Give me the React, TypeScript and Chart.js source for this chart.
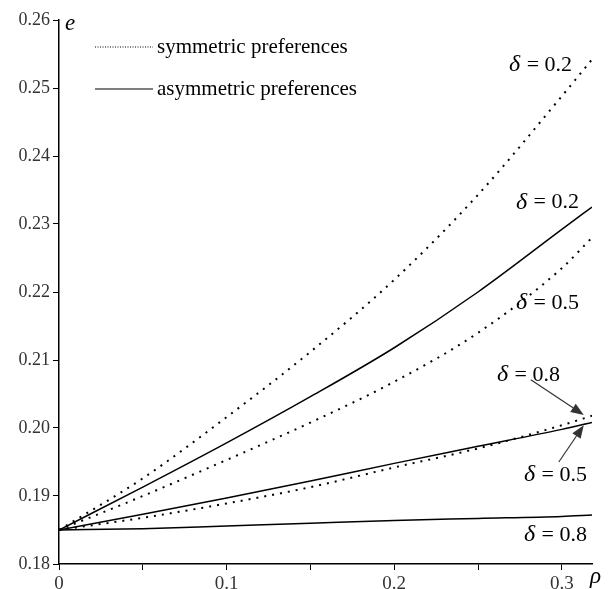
import React, { useEffect, useRef } from "react";
import { Chart, registerables } from "chart.js";

Chart.register(...registerables);

const rho = [0, 0.05, 0.1, 0.15, 0.2, 0.25, 0.3, 0.318];
const symD02 = [0.185, 0.1926, 0.2016, 0.2112, 0.2218, 0.2343, 0.2488, 0.2542];
const asymD02 = [0.185, 0.1913, 0.1978, 0.2046, 0.2118, 0.22, 0.2292, 0.2325];
const symD05 = [0.185, 0.19, 0.1953, 0.2008, 0.2068, 0.214, 0.2235, 0.228];
const asymD05 = [0.185, 0.1873, 0.1897, 0.1922, 0.1948, 0.1973, 0.1998, 0.2008];
const symD08 = [0.185, 0.1868, 0.1889, 0.1913, 0.1942, 0.197, 0.2004, 0.2018];
const asymD08 = [0.185, 0.1852, 0.1856, 0.186, 0.1864, 0.1867, 0.187, 0.1872];

const yTicks = [0.18, 0.19, 0.2, 0.21, 0.22, 0.23, 0.24, 0.25, 0.26];
const xTicks = [0, 0.05, 0.1, 0.15, 0.2, 0.25, 0.3];
const xLabeled = [0, 0.1, 0.2, 0.3];
const legendLabels = ["symmetric preferences", "asymmetric preferences"];

// annotation labels: [text value, x, y]
const curveLabels: [string, number, number][] = [
  ["0.2", 0.2685, 0.2534],
  ["0.2", 0.2726, 0.2332],
  ["0.5", 0.2726, 0.2184],
  ["0.8", 0.2613, 0.2078],
  ["0.5", 0.2774, 0.1931],
  ["0.8", 0.2774, 0.1843],
];
const arrows: [number, number, number, number][] = [
  [0.2815, 0.2071, 0.3131, 0.2019],
  [0.2982, 0.195, 0.3131, 0.2004],
];

const toPts = (ys: number[]) => ys.map((y, i) => ({ x: rho[i], y }));

const overlay = {
  id: "overlay",
  afterDraw(chart: any) {
    const { ctx, scales } = chart;
    const xs = scales.x;
    const ys = scales.y;
    ctx.save();
    // legend
    const lx0 = 95, lx1 = 153;
    const rows = [47, 89];
    ctx.strokeStyle = "#000";
    ctx.lineWidth = 1;
    ctx.setLineDash([1, 1.5]);
    ctx.beginPath();
    ctx.moveTo(lx0, rows[0]);
    ctx.lineTo(lx1, rows[0]);
    ctx.stroke();
    ctx.setLineDash([]);
    ctx.lineWidth = 1.2;
    ctx.beginPath();
    ctx.moveTo(lx0, rows[1]);
    ctx.lineTo(lx1, rows[1]);
    ctx.stroke();
    ctx.fillStyle = "#000";
    ctx.font = '21px "Liberation Serif"';
    ctx.textBaseline = "middle";
    ctx.textAlign = "left";
    ctx.fillText(legendLabels[0], 157, rows[0]);
    ctx.fillText(legendLabels[1], 157, rows[1]);

    // axis titles
    ctx.font = 'italic 23px "Liberation Serif"';
    ctx.fillText("e", xs.left + 6, ys.top + 4);
    ctx.fillText("\u03c1", xs.right - 2, ys.bottom + 13);

    // curve labels
    for (const [v, x, y] of curveLabels) {
      const px = xs.getPixelForValue(x);
      const py = ys.getPixelForValue(y);
      ctx.font = 'italic 24px "Liberation Serif"';
      ctx.fillText("\u03b4", px, py);
      const w = ctx.measureText("\u03b4").width;
      ctx.font = '22px "Liberation Serif"';
      ctx.fillText(" = " + v, px + w + 1, py);
    }

    // arrows
    ctx.strokeStyle = "#333";
    ctx.fillStyle = "#333";
    ctx.lineWidth = 1.2;
    for (const [x0, y0, x1, y1] of arrows) {
      const ax = xs.getPixelForValue(x0);
      const ay = ys.getPixelForValue(y0);
      const bx = xs.getPixelForValue(x1);
      const by = ys.getPixelForValue(y1);
      const ang = Math.atan2(by - ay, bx - ax);
      const hl = 13, hw = 5;
      ctx.beginPath();
      ctx.moveTo(ax, ay);
      ctx.lineTo(bx - Math.cos(ang) * hl, by - Math.sin(ang) * hl);
      ctx.stroke();
      ctx.beginPath();
      ctx.moveTo(bx, by);
      ctx.lineTo(
        bx - Math.cos(ang) * hl - Math.sin(ang) * hw,
        by - Math.sin(ang) * hl + Math.cos(ang) * hw
      );
      ctx.lineTo(
        bx - Math.cos(ang) * hl + Math.sin(ang) * hw,
        by - Math.sin(ang) * hl - Math.cos(ang) * hw
      );
      ctx.closePath();
      ctx.fill();
    }
    ctx.restore();
  },
};

export default function App() {
  const ref = useRef<HTMLCanvasElement>(null);
  useEffect(() => {
    if (!ref.current) return;
    const dotted = { borderDash: [2, 6], borderWidth: 2 };
    const solid = { borderWidth: 1.5 };
    const base = {
      borderColor: "#000",
      pointRadius: 0,
      fill: false,
      cubicInterpolationMode: "monotone" as const,
    };
    const chart = new Chart(ref.current, {
      type: "line",
      data: {
        datasets: [
          { label: "sym 0.2", data: toPts(symD02), ...base, ...dotted },
          { label: "asym 0.2", data: toPts(asymD02), ...base, ...solid },
          { label: "sym 0.5", data: toPts(symD05), ...base, ...dotted },
          { label: "asym 0.5", data: toPts(asymD05), ...base, ...solid },
          { label: "sym 0.8", data: toPts(symD08), ...base, ...dotted },
          { label: "asym 0.8", data: toPts(asymD08), ...base, ...solid },
        ],
      },
      options: {
        animation: false,
        responsive: false,
        devicePixelRatio: 1,
        layout: { padding: { top: 20, right: 16, left: 0, bottom: 0 } },
        plugins: { legend: { display: false }, tooltip: { enabled: false } },
        scales: {
          x: {
            type: "linear",
            min: 0,
            max: 0.318,
            afterFit: (s: any) => {
              s.height = 36;
            },
            afterBuildTicks: (s: any) => {
              s.ticks = xTicks.map((v) => ({ value: v }));
            },
            border: { display: true, color: "#000", width: 1.5 },
            grid: { drawOnChartArea: false, drawTicks: true, tickLength: 6, color: "#000" },
            ticks: {
              autoSkip: false,
              maxRotation: 0,
              padding: 3,
              color: "#333",
              font: { family: "Liberation Serif", size: 19 },
              callback: (v: any) => {
                const n = Number(v);
                const hit = xLabeled.find((t) => Math.abs(t - n) < 1e-6);
                return hit === undefined ? "" : String(hit);
              },
            },
          },
          y: {
            type: "linear",
            min: 0.18,
            max: 0.26,
            afterFit: (s: any) => {
              s.width = 59;
            },
            afterBuildTicks: (s: any) => {
              s.ticks = yTicks.map((v) => ({ value: v }));
            },
            border: { display: true, color: "#000", width: 1.5 },
            grid: { drawOnChartArea: false, drawTicks: true, tickLength: 6, color: "#000" },
            ticks: {
              autoSkip: false,
              padding: 3,
              color: "#333",
              font: { family: "Liberation Serif", size: 18 },
              callback: (v: any) => Number(v).toFixed(2),
            },
          },
        },
      },
      plugins: [overlay],
    });
    return () => chart.destroy();
  }, []);
  return (
    <div style={{ position: "absolute", left: 0, top: 0, width: 608, height: 600, background: "#fff" }}>
      <canvas ref={ref} width={608} height={600} style={{ display: "block" }} />
    </div>
  );
}
